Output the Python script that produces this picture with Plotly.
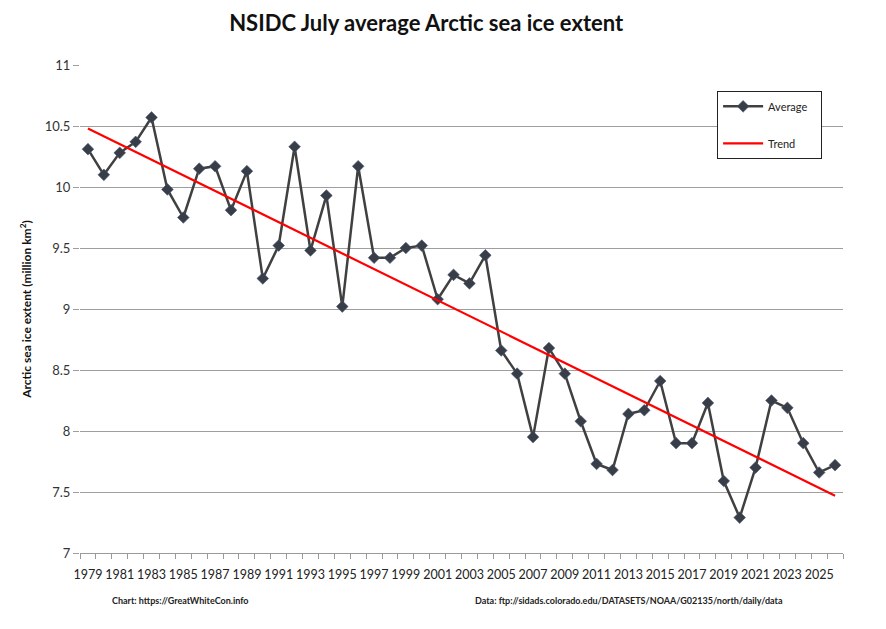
import plotly.graph_objects as go

years = list(range(1979, 2027))
average = [10.31, 10.10, 10.28, 10.37, 10.57, 9.98, 9.75, 10.15, 10.17, 9.81,
           10.13, 9.25, 9.52, 10.33, 9.48, 9.93, 9.02, 10.17, 9.42, 9.42,
           9.50, 9.52, 9.08, 9.28, 9.21, 9.44, 8.66, 8.47, 7.95, 8.68,
           8.47, 8.08, 7.73, 7.68, 8.14, 8.17, 8.41, 7.90, 7.90, 8.23,
           7.59, 7.29, 7.70, 8.25, 8.19, 7.90, 7.66, 7.72]
trend_years = [1979, 2026]
trend_values = [10.48, 7.47]

font = "Lato, 'Open Sans', sans-serif"
narrow = "'Liberation Sans Narrow', 'Arial Narrow', Lato, sans-serif"

fig = go.Figure()
fig.add_trace(go.Scatter(x=years, y=average, name="Average&nbsp;&nbsp;&nbsp;", mode="lines+markers",
                         legendgroup="a",
                         line=dict(color="#404040", width=2.5),
                         marker=dict(symbol="diamond", size=9, color="#383d47",
                                     line=dict(color="#4a5a75", width=0.6))))
fig.add_trace(go.Scatter(x=trend_years, y=trend_values, name="Trend", mode="lines",
                         legendgroup="b",
                         line=dict(color="#ff0000", width=2.2)))

# page body adds an 8px offset, so margins are shifted to compensate
fig.update_layout(
    width=886, height=629,
    margin=dict(l=72, r=51, t=57, b=84, autoexpand=False),
    paper_bgcolor="white", plot_bgcolor="white",
    font=dict(family=font, color="#333333", size=13),
    title=dict(text="<b>NSIDC July average Arctic sea ice extent</b>", x=0.472, xanchor="center",
               y=0.976, yanchor="middle", font=dict(size=22, color="#111111")),
    legend=dict(x=0.835, y=0.947, xanchor="left", yanchor="top",
                bordercolor="#222222", borderwidth=1, bgcolor="white",
                font=dict(size=11, color="#222222"), itemwidth=40,
                traceorder="grouped", tracegroupgap=18),
    showlegend=True,
)
fig.update_xaxes(range=[1978.5, 2026.5], tickmode="linear", tick0=1979, dtick=2,
                 ticks="", showgrid=False, showline=True, linecolor="#9a9a9a",
                 tickangle=0, automargin=False, ticklabelstandoff=10,
                 tickfont=dict(family=narrow, size=12.5, color="#222222"),
                 minor=dict(ticks="outside", tick0=1978.5, dtick=1, ticklen=5,
                            tickcolor="#9a9a9a", showgrid=False))
fig.update_yaxes(range=[7, 11], dtick=0.5, showgrid=True, gridcolor="#9e9e9e",
                 ticks="outside", ticklen=6, tickcolor="#9e9e9e", zeroline=False,
                 automargin=False,
                 tickfont=dict(size=13, color="#333333"),
                 title=dict(text="<b>Arctic sea ice extent (million km<sup>2</sup>)</b>",
                            font=dict(size=12, color="#111111"), standoff=10))

fig.add_annotation(text="<b>Chart: https://GreatWhiteCon.info</b>", xref="paper", yref="paper",
                   x=0.039, y=-0.098, xanchor="left", yanchor="middle", showarrow=False,
                   font=dict(size=9, color="#222222"))
fig.add_annotation(text="<b>Data: ftp://sidads.colorado.edu/DATASETS/NOAA/G02135/north/daily/data</b>",
                   xref="paper", yref="paper", x=0.515, y=-0.098, xanchor="left",
                   yanchor="middle", showarrow=False, font=dict(size=9, color="#222222"))

fig.write_html("out.html")
